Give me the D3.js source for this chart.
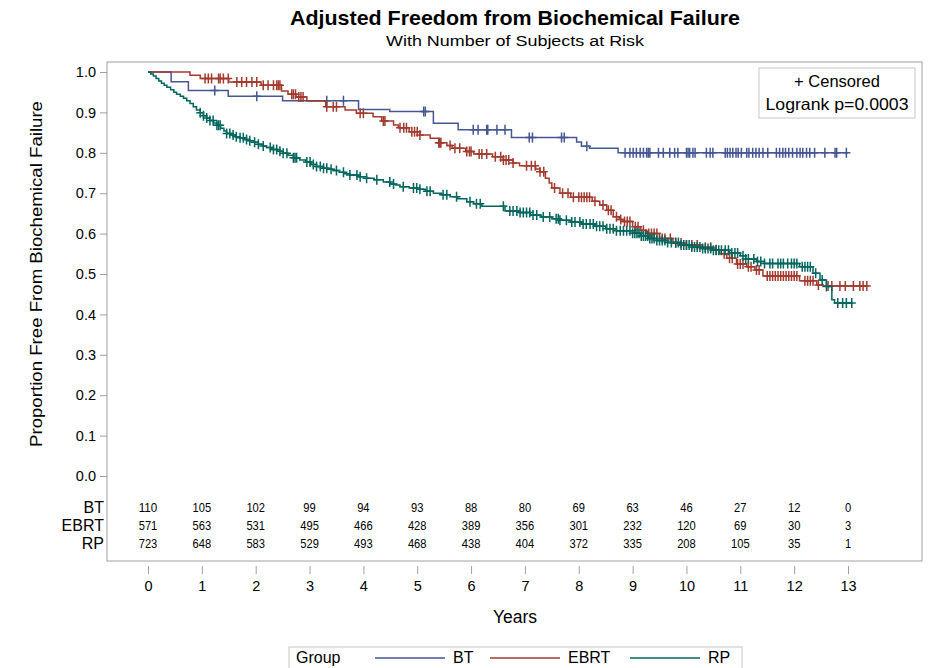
<!DOCTYPE html>
<html>
<head>
<meta charset="utf-8">
<script src="https://cdn.jsdelivr.net/npm/d3@7"></script>
<style>
  body { margin: 0; background: #fff; }
  svg { display: block; }
  text { font-family: "Liberation Sans", Arial, sans-serif; fill: #000; }
</style>
</head>
<body>
<svg id="chart" width="929" height="668"></svg>
<script>
// ---- data -------------------------------------------------------------
const groups = ["BT", "EBRT", "RP"];
const groupColors = ["#445694", "#A23A2E", "#01665E"];
const yTickValues = [0, 0.1, 0.2, 0.3, 0.4, 0.5, 0.6, 0.7, 0.8, 0.9, 1.0];
const xTickValues = [0, 1, 2, 3, 4, 5, 6, 7, 8, 9, 10, 11, 12, 13];

// number of subjects at risk at each year
const atRiskBT   = [110, 105, 102, 99, 94, 93, 88, 80, 69, 63, 46, 27, 12, 0];
const atRiskEBRT = [571, 563, 531, 495, 466, 428, 389, 356, 301, 232, 120, 69, 30, 3];
const atRiskRP   = [723, 648, 583, 529, 493, 468, 438, 404, 372, 335, 208, 105, 35, 1];

// Kaplan-Meier steps: event time and survival after that time
const btTimes = [0, 0.43, 0.75, 1.49, 2.5, 3.91, 4.49, 5.3, 5.76, 6.75, 7.96, 8.05, 8.2, 8.73];
const btSurv  = [1.0, 0.976, 0.954, 0.94, 0.929, 0.907, 0.902, 0.873, 0.857, 0.838, 0.827, 0.816, 0.811, 0.80];
const btLast  = 13.0;
const btCensored = [1.24, 2.02, 3.32, 3.63, 5.12, 5.15, 6.04, 6.13, 6.29, 6.31, 6.48, 6.63, 7.08, 7.14,
  7.68, 7.73, 8.15, 8.86, 8.95, 9.01, 9.07, 9.14, 9.2, 9.26, 9.29, 9.32, 9.48, 9.57, 9.69, 9.78, 9.84,
  10.0, 10.03, 10.06, 10.12, 10.16, 10.37, 10.44, 10.49, 10.72, 10.76, 10.81, 10.86, 10.92, 10.96,
  11.02, 11.12, 11.16, 11.23, 11.29, 11.35, 11.42, 11.51, 11.67, 11.73, 11.79, 11.84, 11.9, 11.97,
  12.05, 12.11, 12.16, 12.23, 12.29, 12.38, 12.57, 12.76, 12.79, 12.97];

const ebrtTimes = [0, 0.78, 0.97, 1.5, 2.1, 2.48, 2.6, 2.75, 2.95, 3.3, 3.66, 3.87, 4.18, 4.34, 4.56,
  4.65, 4.85, 5.05, 5.24, 5.4, 5.55, 5.65, 5.9, 6.05, 6.4, 6.6, 6.78, 6.9, 7.2, 7.28, 7.38, 7.45, 7.5,
  7.65, 7.85, 8.25, 8.39, 8.52, 8.64, 8.75, 8.82, 9.0, 9.15, 9.26, 9.5, 9.75, 10.0, 10.3, 10.5, 10.62,
  10.75, 10.93, 11.12, 11.27, 11.42, 12.1, 12.42, 12.54];
const ebrtSurv = [1.0, 0.992, 0.984, 0.975, 0.967, 0.953, 0.945, 0.938, 0.928, 0.914, 0.906, 0.898,
  0.889, 0.879, 0.869, 0.862, 0.852, 0.844, 0.836, 0.825, 0.818, 0.811, 0.803, 0.797, 0.79, 0.782,
  0.775, 0.768, 0.76, 0.753, 0.737, 0.725, 0.713, 0.70, 0.69, 0.68, 0.671, 0.658, 0.642, 0.635, 0.63,
  0.617, 0.608, 0.60, 0.588, 0.577, 0.572, 0.566, 0.56, 0.55, 0.539, 0.525, 0.518, 0.51, 0.495, 0.483,
  0.473, 0.47];
const ebrtLast = 13.35;
const ebrtCensored = [1.06, 1.12, 1.18, 1.31, 1.34, 1.4, 1.49, 1.65, 1.74, 1.83, 1.93, 2.02, 2.14,
  2.23, 2.33, 2.39, 2.42, 2.45, 2.67, 2.7, 2.74, 2.8, 2.84, 2.88, 3.32, 3.44, 3.5, 3.94, 4.0, 4.37,
  4.4, 4.68, 4.75, 4.8, 4.9, 4.95, 5.0, 5.05, 5.4, 5.42, 5.44, 5.61, 5.7, 5.79, 5.92, 5.97, 6.0, 6.15,
  6.2, 6.29, 6.45, 6.55, 6.6, 6.65, 6.7, 6.78, 7.03, 7.12, 7.19, 7.28, 7.35, 7.55, 7.7, 7.8, 7.9, 8.0,
  8.05, 8.1, 8.15, 8.2, 8.3, 8.45, 8.55, 8.6, 8.7, 8.78, 8.85, 8.9, 8.95, 9.05, 9.1, 9.2, 9.3, 9.35,
  9.4, 9.45, 9.55, 9.6, 9.7, 9.8, 9.9, 10.0, 10.1, 10.2, 10.35, 10.45, 10.55, 10.7, 10.8, 10.85,
  10.95, 11.0, 11.05, 11.15, 11.2, 11.3, 11.35, 11.5, 11.55, 11.6, 11.65, 11.7, 11.75, 11.8, 11.85,
  11.9, 11.95, 12.0, 12.05, 12.2, 12.25, 12.3, 12.35, 12.45, 12.63, 12.7, 12.85, 12.95, 13.1, 13.22,
  13.28, 13.35];

const rpTimes = [0, 0.05, 0.1, 0.15, 0.2, 0.25, 0.3, 0.35, 0.42, 0.48, 0.53, 0.6, 0.66, 0.72, 0.78,
  0.84, 0.9, 0.97, 1.03, 1.09, 1.15, 1.22, 1.28, 1.35, 1.41, 1.46, 1.55, 1.63, 1.71, 1.8, 1.88, 1.96,
  2.05, 2.13, 2.2, 2.3, 2.4, 2.51, 2.6, 2.7, 2.82, 2.93, 3.03, 3.13, 3.25, 3.35, 3.44, 3.55, 3.65,
  3.75, 3.9, 4.06, 4.2, 4.37, 4.5, 4.6, 4.68, 4.85, 5.0, 5.15, 5.3, 5.45, 5.61, 5.75, 5.92, 6.05, 6.2,
  6.63, 6.9, 7.1, 7.3, 7.5, 7.65, 7.85, 8.05, 8.3, 8.5, 8.7, 9.0, 9.15, 9.3, 9.45, 9.65, 9.88, 10.1,
  10.3, 10.5, 10.8, 11.0, 11.1, 11.3, 11.45, 12.1, 12.35, 12.48, 12.6, 12.7, 12.75];
const rpSurv = [1.0, 0.995, 0.99, 0.984, 0.978, 0.972, 0.967, 0.962, 0.956, 0.95, 0.945, 0.94, 0.935,
  0.929, 0.922, 0.914, 0.906, 0.899, 0.892, 0.886, 0.88, 0.874, 0.868, 0.861, 0.854, 0.848, 0.844,
  0.84, 0.837, 0.833, 0.83, 0.826, 0.821, 0.817, 0.813, 0.808, 0.804, 0.799, 0.794, 0.788, 0.782,
  0.777, 0.771, 0.766, 0.762, 0.759, 0.756, 0.752, 0.748, 0.745, 0.741, 0.737, 0.733, 0.728, 0.723,
  0.72, 0.716, 0.713, 0.71, 0.705, 0.70, 0.696, 0.691, 0.686, 0.679, 0.674, 0.668, 0.656, 0.652,
  0.646, 0.641, 0.637, 0.633, 0.629, 0.624, 0.618, 0.612, 0.607, 0.601, 0.594, 0.588, 0.583, 0.578,
  0.572, 0.567, 0.563, 0.559, 0.552, 0.545, 0.537, 0.531, 0.526, 0.518, 0.502, 0.485, 0.469, 0.436,
  0.428];
const rpLast = 13.07;
const rpCensored = [0.97, 1.03, 1.09, 1.15, 1.21, 1.28, 1.31, 1.34, 1.46, 1.52, 1.58, 1.64, 1.71,
  1.77, 1.83, 1.89, 1.98, 2.05, 2.14, 2.27, 2.33, 2.39, 2.45, 2.51, 2.58, 2.7, 2.73, 2.76, 2.95, 3.01,
  3.07, 3.13, 3.2, 3.26, 3.32, 3.4, 3.5, 3.63, 3.75, 3.88, 3.94, 4.06, 4.25, 4.49, 4.56, 4.74, 4.93,
  4.99, 5.05, 5.18, 5.24, 5.48, 5.55, 5.73, 5.98, 6.1, 6.17, 6.6, 6.72, 6.78, 6.85, 6.91, 6.97, 7.03,
  7.09, 7.15, 7.22, 7.34, 7.46, 7.58, 7.62, 7.65, 7.77, 7.87, 7.93, 8.02, 8.08, 8.14, 8.21, 8.27, 8.33,
  8.39, 8.45, 8.52, 8.58, 8.64, 8.7, 8.77, 8.83, 8.89, 8.95, 9.0, 9.04, 9.08, 9.12, 9.16, 9.2, 9.24,
  9.28, 9.32, 9.36, 9.4, 9.45, 9.5, 9.55, 9.6, 9.65, 9.72, 9.8, 9.85, 9.9, 9.95, 10.0, 10.05, 10.1,
  10.15, 10.2, 10.25, 10.3, 10.35, 10.4, 10.45, 10.5, 10.55, 10.6, 10.65, 10.72, 10.78, 10.84, 10.9,
  10.95, 11.05, 11.1, 11.15, 11.25, 11.32, 11.38, 11.45, 11.55, 11.6, 11.7, 11.75, 11.8, 11.88, 11.95,
  12.0, 12.05, 12.15, 12.2, 12.25, 12.3, 12.4, 12.52, 12.6, 12.81, 12.9, 12.97, 13.07];

// ---- layout -----------------------------------------------------------
const svg = d3.select("#chart");
const frame = { left: 107, top: 62, right: 922, bottom: 561 };
const x = d3.scaleLinear().domain([0, 13]).range([148, 848]);
const y = d3.scaleLinear().domain([0, 1]).range([476, 72]);
const gridGray = "#a0a0a0";

// titles
svg.append("text").attr("x", 515).attr("y", 25).attr("text-anchor", "middle")
  .attr("font-size", 20.5).attr("font-weight", "bold")
  .attr("textLength", 450).attr("lengthAdjust", "spacingAndGlyphs")
  .text("Adjusted Freedom from Biochemical Failure");
svg.append("text").attr("x", 515).attr("y", 46).attr("text-anchor", "middle")
  .attr("font-size", 15.5)
  .attr("textLength", 258).attr("lengthAdjust", "spacingAndGlyphs")
  .text("With Number of Subjects at Risk");

// plot frame
svg.append("rect")
  .attr("x", frame.left).attr("y", frame.top)
  .attr("width", frame.right - frame.left).attr("height", frame.bottom - frame.top)
  .attr("fill", "none").attr("stroke", gridGray).attr("stroke-width", 1);

// y axis
const yAxis = d3.axisLeft(y).tickValues(yTickValues).tickFormat(d3.format(".1f"))
  .tickSize(7).tickPadding(4);
const yG = svg.append("g").attr("transform", `translate(${frame.left},0)`).call(yAxis);
yG.select(".domain").remove();
yG.selectAll(".tick line").attr("stroke", gridGray);
yG.selectAll(".tick text").attr("font-size", 14.5).attr("font-family", '"Liberation Sans", Arial, sans-serif')
  .attr("fill", "#000");

svg.append("text")
  .attr("transform", "translate(42,274) rotate(-90)")
  .attr("text-anchor", "middle").attr("font-size", 16.5)
  .attr("textLength", 346).attr("lengthAdjust", "spacingAndGlyphs")
  .text("Proportion Free From Biochemical Failure");

// x axis (below the frame)
const xAxis = d3.axisBottom(x).tickValues(xTickValues).tickFormat(d3.format("d"))
  .tickSize(8).tickPadding(7);
const xG = svg.append("g").attr("transform", `translate(0,${frame.bottom + 5})`).call(xAxis);
xG.select(".domain").remove();
xG.selectAll(".tick line").attr("stroke", gridGray);
xG.selectAll(".tick text").attr("font-size", 14.5).attr("font-family", '"Liberation Sans", Arial, sans-serif')
  .attr("fill", "#000");

svg.append("text").attr("x", 515).attr("y", 623).attr("text-anchor", "middle")
  .attr("font-size", 17.5).text("Years");

// ---- survival curves ----------------------------------------------------
const series = [
  { name: "BT", times: btTimes, surv: btSurv, last: btLast, censored: btCensored },
  { name: "EBRT", times: ebrtTimes, surv: ebrtSurv, last: ebrtLast, censored: ebrtCensored },
  { name: "RP", times: rpTimes, surv: rpSurv, last: rpLast, censored: rpCensored }
];
const stepLine = d3.line().x(d => x(d[0])).y(d => y(d[1])).curve(d3.curveStepAfter);
const bisect = d3.bisector(d => d).right;

series.forEach((s, i) => {
  const color = groupColors[i];
  const pts = s.times.map((t, k) => [t, s.surv[k]]);
  pts.push([s.last, s.surv[s.surv.length - 1]]);
  const g = svg.append("g").attr("class", "curve-" + s.name);
  g.append("path").attr("d", stepLine(pts))
    .attr("fill", "none").attr("stroke", color).attr("stroke-width", 1.5);
  g.selectAll("path.censor").data(s.censored).join("path")
    .attr("class", "censor")
    .attr("transform", t => {
      const k = Math.max(0, bisect(s.times, t) - 1);
      return `translate(${x(t)},${y(s.surv[k])})`;
    })
    .attr("d", "M-4,0H4M0,-5V5")
    .attr("fill", "none").attr("stroke", color).attr("stroke-width", 1.5);
});

// ---- at-risk table ------------------------------------------------------
const atRisk = [atRiskBT, atRiskEBRT, atRiskRP];
const rowY = [512, 530, 548];
groups.forEach((gname, i) => {
  svg.append("text").attr("x", 104).attr("y", rowY[i] + 0.5).attr("text-anchor", "end")
    .attr("font-size", 16).text(gname);
  svg.append("g").selectAll("text").data(atRisk[i]).join("text")
    .attr("x", (d, k) => x(xTickValues[k]))
    .attr("y", rowY[i]).attr("text-anchor", "middle")
    .attr("font-size", 13.5)
    .attr("textLength", d => String(d).length * 6.2)
    .attr("lengthAdjust", "spacingAndGlyphs")
    .text(d => d);
});

// ---- inset box ----------------------------------------------------------
svg.append("rect").attr("x", 759).attr("y", 68).attr("width", 156).attr("height", 50)
  .attr("fill", "#fff").attr("stroke", "#c8c8c8");
svg.append("text").attr("x", 837).attr("y", 87).attr("text-anchor", "middle")
  .attr("font-size", 16.5).text("+ Censored");
svg.append("text").attr("x", 837).attr("y", 110).attr("text-anchor", "middle")
  .attr("font-size", 16.5).attr("textLength", 143).attr("lengthAdjust", "spacingAndGlyphs")
  .text("Logrank p=0.0003");

// ---- legend -------------------------------------------------------------
const legend = svg.append("g");
legend.append("rect").attr("x", 289).attr("y", 647).attr("width", 453).attr("height", 40)
  .attr("fill", "none").attr("stroke", "#c8c8c8");
legend.append("text").attr("x", 296).attr("y", 663).attr("font-size", 16).text("Group");
const legendLineX = [375, 490, 630];
const legendTextX = [453, 568, 708];
groups.forEach((gname, i) => {
  legend.append("line").attr("x1", legendLineX[i]).attr("x2", legendLineX[i] + 70)
    .attr("y1", 658).attr("y2", 658).attr("stroke", groupColors[i]).attr("stroke-width", 1.5);
  legend.append("text").attr("x", legendTextX[i]).attr("y", 663).attr("font-size", 16).text(gname);
});
</script>
</body>
</html>
